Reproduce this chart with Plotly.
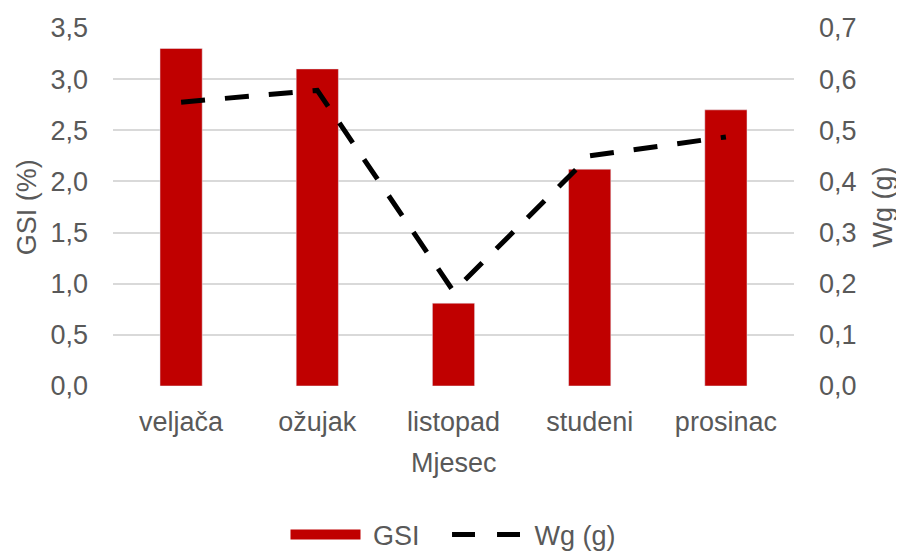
import plotly.graph_objects as go

months = ["veljača", "ožujak", "listopad", "studeni", "prosinac"]
gsi = [3.30, 3.10, 0.81, 2.12, 2.70]
wg = [0.555, 0.578, 0.185, 0.450, 0.487]

left_ticks = [0, 0.5, 1.0, 1.5, 2.0, 2.5, 3.0, 3.5]
left_labels = ["0,0", "0,5", "1,0", "1,5", "2,0", "2,5", "3,0", "3,5"]
right_ticks = [0, 0.1, 0.2, 0.3, 0.4, 0.5, 0.6, 0.7]
right_labels = ["0,0", "0,1", "0,2", "0,3", "0,4", "0,5", "0,6", "0,7"]

FONT = "Liberation Sans, Arial, sans-serif"
GREY = "#595959"
RED = "#c00000"
FS = 27
NB = "\u00a0"

fig = go.Figure()
fig.add_trace(go.Bar(x=months, y=gsi, name="GSI", marker=dict(color=RED),
                     showlegend=False, yaxis="y"))
fig.add_trace(go.Scatter(x=months, y=wg, name="Wg (g)", mode="lines",
                         line=dict(color="black", width=5, dash="24px,20px"),
                         yaxis="y2", showlegend=False))
# legend-only entries
fig.add_trace(go.Scatter(x=[None], y=[None], name=NB + "GSI" + NB * 3, mode="lines",
                         line=dict(color=RED, width=14), showlegend=True))
fig.add_trace(go.Scatter(x=[None], y=[None], name=NB + "Wg (g)", mode="lines",
                         line=dict(color="black", width=5, dash="23px,22px"),
                         showlegend=True, yaxis="y2"))

fig.update_layout(
    width=896, height=544,
    margin=dict(l=105, r=110, t=20, b=166, autoexpand=False),
    paper_bgcolor="white", plot_bgcolor="white",
    font=dict(family=FONT, color=GREY, size=FS),
    bargap=0.69,
    xaxis=dict(showgrid=False, showline=False, zeroline=False, automargin=False,
               ticks="", tickfont=dict(size=FS), ticklabelstandoff=17),
    yaxis=dict(range=[0, 3.5], tickvals=left_ticks, ticktext=left_labels,
               showgrid=True, gridcolor="#d9d9d9", gridwidth=1.5, automargin=False,
               zeroline=False, showline=False, ticks="",
               ticklabelstandoff=24, tickfont=dict(size=FS)),
    yaxis2=dict(overlaying="y", side="right", automargin=False,
                range=[0, 0.7], tickvals=right_ticks, ticktext=right_labels,
                showgrid=False, zeroline=False, showline=False, ticks="",
                ticklabelstandoff=24, tickfont=dict(size=FS)),
    legend=dict(orientation="h", x=0.5, xanchor="center", y=-0.416, yanchor="middle",
                font=dict(size=FS, color=GREY), itemwidth=70,
                bgcolor="rgba(0,0,0,0)"),
    annotations=[
        dict(text="GSI (%)", xref="paper", yref="paper", x=-0.126, y=0.5,
             xanchor="center", yanchor="middle", textangle=-90, showarrow=False,
             font=dict(size=FS, color=GREY)),
        dict(text="Wg (g)", xref="paper", yref="paper", x=1.130, y=0.5,
             xanchor="center", yanchor="middle", textangle=-90, showarrow=False,
             font=dict(size=FS, color=GREY)),
        dict(text="Mjesec", xref="paper", yref="paper", x=0.5, y=-0.215,
             xanchor="center", yanchor="middle", showarrow=False,
             font=dict(size=FS, color=GREY)),
    ],
)

fig.write_html("out.html")
